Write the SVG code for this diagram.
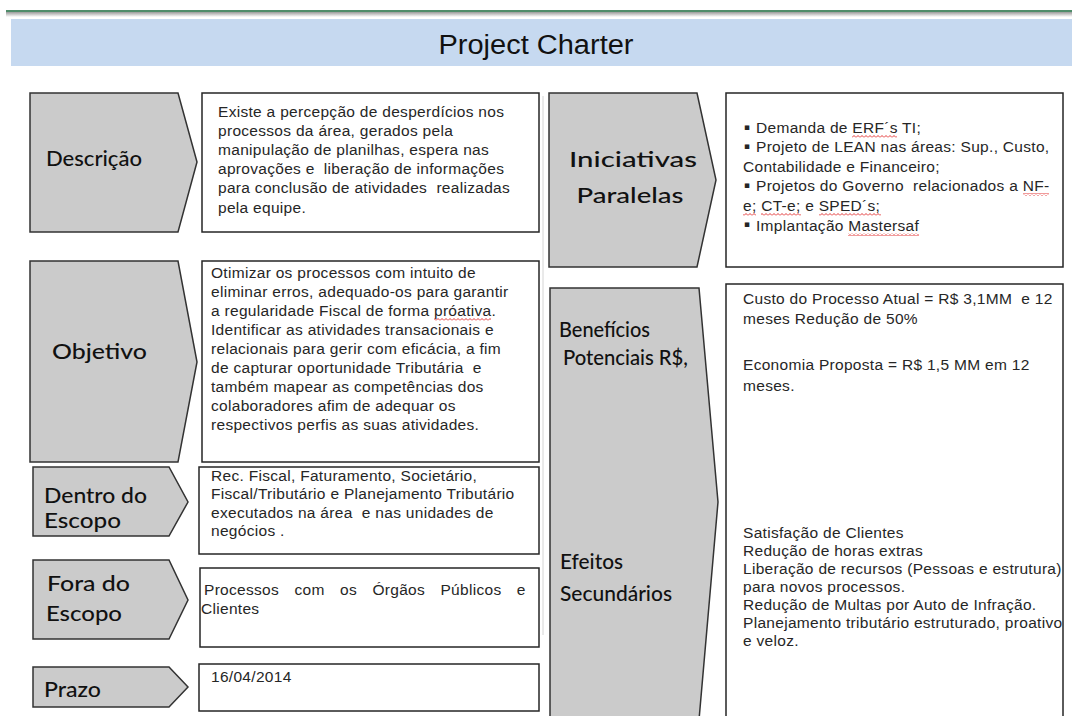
<svg xmlns="http://www.w3.org/2000/svg" width="1072" height="716" viewBox="0 0 1072 716">
<defs>
<linearGradient id="shade" x1="0" y1="0" x2="0" y2="1">
<stop offset="0" stop-color="#9a9a9a"/>
<stop offset="1" stop-color="#ffffff"/>
</linearGradient>
<pattern id="wave" x="0" y="0" width="4" height="3" patternUnits="userSpaceOnUse">
<path d="M0,2.5 L2,0.5 L4,2.5" fill="none" stroke="#e02020" stroke-width="0.9"/>
</pattern>
<style>
.chev{fill:#cbcbcb;stroke:#333333;stroke-width:1.5;stroke-linejoin:miter}
.box{fill:#ffffff;stroke:#262626;stroke-width:1.5}
.lbl{font-family:"Lato","Open Sans",sans-serif;font-size:22px;fill:#111111;font-weight:500}
.txt{font-family:"Liberation Sans",Arial,sans-serif;font-size:15.5px;letter-spacing:0.3px;fill:#262626}
.sq{font-family:"DejaVu Sans",sans-serif;font-size:9px;fill:#262626}
.ttl{font-family:"Liberation Sans Narrow","Liberation Sans",Arial,sans-serif;font-size:27px;fill:#111111}
</style>
</defs>
<rect width="1072" height="716" fill="#ffffff"/>
<g id="header">
<rect x="6" y="10" width="1066" height="2" fill="#4f8c6a"/>
<rect x="6" y="12" width="1066" height="5" fill="url(#shade)"/>
<rect x="11" y="19" width="1061" height="47" fill="#c6d9f0"/>
<text class="ttl" x="536" y="54" text-anchor="middle" textLength="195" lengthAdjust="spacingAndGlyphs">Project Charter</text>
</g>
<g id="connectors">
<line x1="543" y1="96" x2="543" y2="635" stroke="#d4d4d4" stroke-width="1"/>
</g>
<g id="descricao">
<path class="chev" d="M30,93 L178,93 L197,162 L178,232 L30,232 Z"/>
<text class="lbl" x="46" y="166" textLength="96" lengthAdjust="spacingAndGlyphs">Descrição</text>
<rect class="box" x="202" y="93" width="337" height="139"/>
<text class="txt">
<tspan x="218" y="117">Existe a percepção de desperdícios nos</tspan>
<tspan x="218" y="136">processos da área, gerados pela</tspan>
<tspan x="218" y="155">manipulação de planilhas, espera nas</tspan>
<tspan x="218" y="174">aprovações e&#160; liberação de informações</tspan>
<tspan x="218" y="193">para conclusão de atividades&#160; realizadas</tspan>
<tspan x="218" y="213">pela equipe.</tspan>
</text>
</g>
<g id="objetivo">
<path class="chev" d="M30,261 L178,261 L197,362 L178,462 L30,462 Z"/>
<text class="lbl" x="52" y="359" textLength="95" lengthAdjust="spacingAndGlyphs">Objetivo</text>
<rect class="box" x="202" y="261" width="337" height="201"/>
<text class="txt">
<tspan x="211" y="278">Otimizar os processos com intuito de</tspan>
<tspan x="211" y="297">eliminar erros, adequado-os para garantir</tspan>
<tspan x="211" y="316">a regularidade Fiscal de forma próativa.</tspan>
<tspan x="211" y="335">Identificar as atividades transacionais e</tspan>
<tspan x="211" y="354">relacionais para gerir com eficácia, a fim</tspan>
<tspan x="211" y="373">de capturar oportunidade Tributária&#160; e</tspan>
<tspan x="211" y="392">também mapear as competências dos</tspan>
<tspan x="211" y="411">colaboradores afim de adequar os</tspan>
<tspan x="211" y="430">respectivos perfis as suas atividades.</tspan>
</text>
<rect x="434" y="318" width="57" height="3" fill="url(#wave)"/>
</g>
<g id="dentro">
<path class="chev" d="M33,467 L169,467 L188,502 L169,536 L33,536 Z"/>
<text class="lbl" x="44" y="503" textLength="103" lengthAdjust="spacingAndGlyphs">Dentro do</text>
<text class="lbl" x="44" y="528" textLength="77" lengthAdjust="spacingAndGlyphs">Escopo</text>
<rect class="box" x="199" y="467" width="340" height="87"/>
<text class="txt">
<tspan x="211" y="481">Rec. Fiscal, Faturamento, Societário,</tspan>
<tspan x="211" y="499">Fiscal/Tributário e Planejamento Tributário</tspan>
<tspan x="211" y="518">executados na área&#160; e nas unidades de</tspan>
<tspan x="211" y="536">negócios .</tspan>
</text>
</g>
<g id="fora">
<path class="chev" d="M33,560 L169,560 L188,600 L169,639 L33,639 Z"/>
<text class="lbl" x="47" y="591" textLength="83" lengthAdjust="spacingAndGlyphs">Fora do</text>
<text class="lbl" x="46" y="621" textLength="76" lengthAdjust="spacingAndGlyphs">Escopo</text>
<rect class="box" x="200" y="568" width="339" height="79"/>
<text class="txt" x="204" y="595" word-spacing="10.8">Processos com os Órgãos Públicos e</text>
<text class="txt" x="201" y="614">Clientes</text>
</g>
<g id="prazo">
<path class="chev" d="M33,667 L169,667 L188,687 L169,707 L33,707 Z"/>
<text class="lbl" x="44" y="697" textLength="57" lengthAdjust="spacingAndGlyphs">Prazo</text>
<rect class="box" x="199" y="664" width="340" height="47"/>
<text class="txt" x="211" y="682">16/04/2014</text>
</g>
<g id="iniciativas">
<path class="chev" d="M549,93 L697,93 L716,180 L697,267 L549,267 Z"/>
<text class="lbl" x="633" y="167" text-anchor="middle" textLength="128" lengthAdjust="spacingAndGlyphs">Iniciativas</text>
<text class="lbl" x="630" y="203" text-anchor="middle" textLength="107" lengthAdjust="spacingAndGlyphs">Paralelas</text>
<rect class="box" x="726" y="93" width="337" height="174"/>
<text class="sq" x="744" y="130">▪</text>
<text class="sq" x="744" y="149">▪</text>
<text class="sq" x="744" y="188">▪</text>
<text class="sq" x="744" y="227">▪</text>
<text class="txt">
<tspan x="756" y="133">Demanda de ERF´s TI;</tspan>
<tspan x="756" y="152">Projeto de LEAN nas áreas: Sup., Custo,</tspan>
<tspan x="743" y="172">Contabilidade e Financeiro;</tspan>
<tspan x="756" y="191">Projetos do Governo&#160; relacionados a NF-</tspan>
<tspan x="743" y="211">e; CT-e; e SPED´s;</tspan>
<tspan x="756" y="231">Implantação Mastersaf</tspan>
</text>
<rect x="852" y="135" width="45" height="3" fill="url(#wave)"/>
<rect x="1023" y="193" width="26" height="3" fill="url(#wave)"/>
<rect x="743" y="213" width="13" height="3" fill="url(#wave)"/>
<rect x="761" y="213" width="40" height="3" fill="url(#wave)"/>
<rect x="819" y="213" width="62" height="3" fill="url(#wave)"/>
<rect x="848" y="233" width="71" height="3" fill="url(#wave)"/>
</g>
<g id="beneficios">
<path class="chev" d="M550,288 L699,288 L718,502 L699,720 L550,720 Z"/>
<text class="lbl" x="559" y="337" textLength="91" lengthAdjust="spacingAndGlyphs">Benefícios</text>
<text class="lbl" x="563" y="365" textLength="125" lengthAdjust="spacingAndGlyphs">Potenciais R$,</text>
<text class="lbl" x="560" y="569" textLength="63" lengthAdjust="spacingAndGlyphs">Efeitos</text>
<text class="lbl" x="560" y="601" textLength="112" lengthAdjust="spacingAndGlyphs">Secundários</text>
<rect class="box" x="726" y="284" width="337" height="440"/>
<text class="txt">
<tspan x="743" y="304">Custo do Processo Atual = R$ 3,1MM&#160; e 12</tspan>
<tspan x="743" y="324">meses Redução de 50%</tspan>
<tspan x="743" y="370">Economia Proposta = R$ 1,5 MM em 12</tspan>
<tspan x="743" y="391">meses.</tspan>
</text>
<text class="txt">
<tspan x="743" y="538">Satisfação de Clientes</tspan>
<tspan x="743" y="556">Redução de horas extras</tspan>
<tspan x="743" y="574">Liberação de recursos (Pessoas e estrutura)</tspan>
<tspan x="743" y="592">para novos processos.</tspan>
<tspan x="743" y="610">Redução de Multas por Auto de Infração.</tspan>
<tspan x="743" y="628">Planejamento tributário estruturado, proativo</tspan>
<tspan x="743" y="646">e veloz.</tspan>
</text>
</g>
</svg>
